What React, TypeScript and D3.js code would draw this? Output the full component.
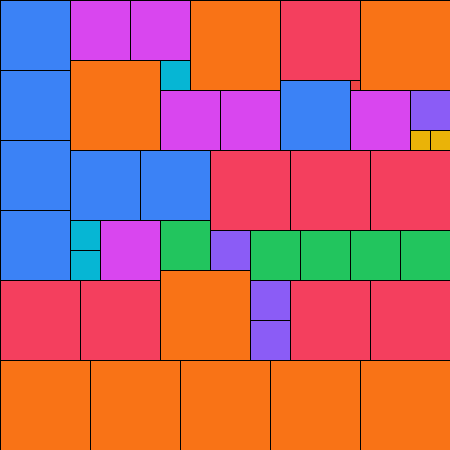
import React, { useEffect, useRef } from 'react';
import * as d3 from 'd3';

// groups: name, side length (grid units), fill
const groupNames = ['blue', 'magenta', 'orange', 'rose', 'cyan', 'purple', 'amber', 'green', 'red'];
const groupSizes = [7, 6, 9, 8, 3, 4, 2, 5, 1];
const groupColors = ['#3b82f6', '#d946ef', '#f97316', '#f43f5e', '#06b6d4', '#8b5cf6', '#eab308', '#22c55e', '#ef4444'];

// squares in the order they are packed
const itemGroups = [
  'blue', 'magenta', 'magenta', 'orange', 'rose', 'orange', 'orange', 'cyan', 'blue', 'blue',
  'red', 'magenta', 'magenta', 'magenta', 'purple', 'amber', 'amber', 'blue', 'blue', 'blue',
  'rose', 'rose', 'rose', 'blue', 'cyan', 'magenta', 'green', 'purple', 'green', 'green',
  'green', 'green', 'cyan', 'orange', 'rose', 'rose', 'purple', 'rose', 'rose', 'purple',
  'orange', 'orange', 'orange', 'orange', 'orange',
];

const GRID = 45;
const width = 450;
const height = 450;

type Placed = { group: string; x: number; y: number; size: number };

// bottom-left skyline packing on an integer grid
const packSquares = (): Placed[] => {
  const skyline = new Array(GRID).fill(0);
  return itemGroups.map(group => {
    const size = groupSizes[groupNames.indexOf(group)];
    let bestX = 0;
    let bestY = Infinity;
    for (let x = 0; x + size <= GRID; x++) {
      const y = d3.max(skyline.slice(x, x + size)) ?? 0;
      if (y < bestY) {
        bestY = y;
        bestX = x;
      }
    }
    for (let i = bestX; i < bestX + size; i++) skyline[i] = bestY + size;
    return { group, x: bestX, y: bestY, size };
  });
};

const App: React.FC = () => {
  const svgRef = useRef<SVGSVGElement | null>(null);

  useEffect(() => {
    if (!svgRef.current) return;
    const svg = d3.select(svgRef.current);
    svg.selectAll('*').remove();

    const xScale = d3.scaleLinear().domain([0, GRID]).range([0, width]);
    const yScale = d3.scaleLinear().domain([0, GRID]).range([0, height]);
    const color = d3.scaleOrdinal<string, string>().domain(groupNames).range(groupColors);

    svg
      .selectAll('rect')
      .data(packSquares())
      .join('rect')
      .attr('x', d => xScale(d.x))
      .attr('y', d => yScale(d.y))
      .attr('width', d => xScale(d.size) - xScale(0))
      .attr('height', d => yScale(d.size) - yScale(0))
      .attr('fill', d => color(d.group))
      .attr('stroke', '#000')
      .attr('stroke-width', 1)
      .attr('shape-rendering', 'crispEdges');
  }, []);

  return (
    <svg
      ref={svgRef}
      width={width}
      height={height}
      style={{ position: 'absolute', left: 0, top: 0, display: 'block' }}
    />
  );
};

export default App;
